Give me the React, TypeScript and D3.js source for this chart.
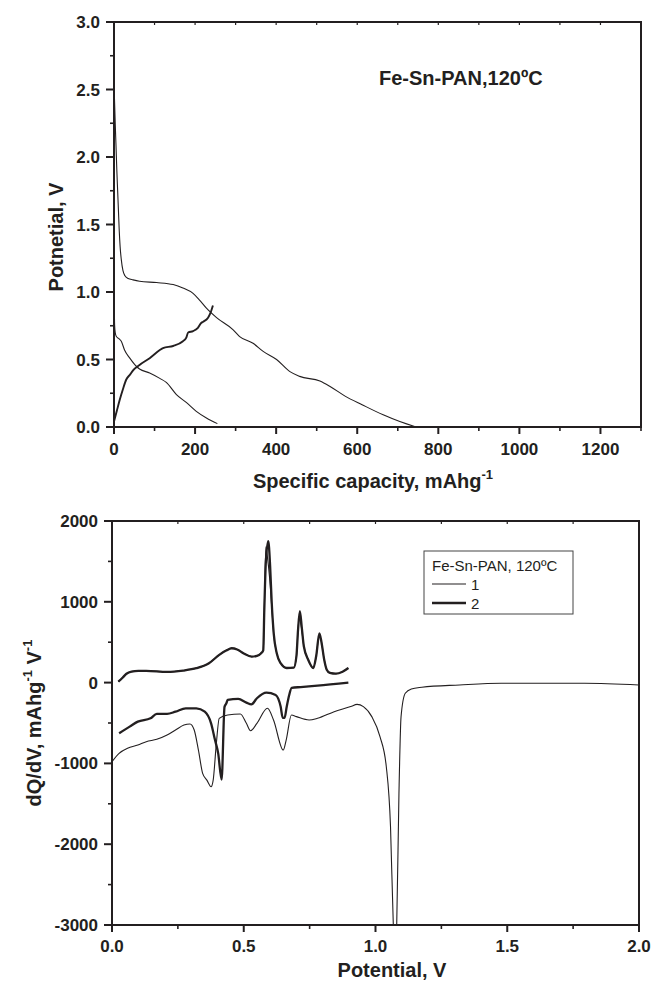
import React from "react";
import * as d3 from "d3";

// ---------- Top chart data (Specific capacity vs potential) ----------
const capFirstDis = [0, 1.5, 3, 5, 7, 9, 11, 13, 15, 18, 22, 27, 35, 47, 63, 105, 146, 170, 195, 211, 228, 253, 294, 310, 343, 368, 401, 434, 458, 508, 533, 571, 612, 664, 705, 745];
const potFirstDis = [2.55, 2.4, 2.25, 2.08, 1.9, 1.75, 1.6, 1.45, 1.34, 1.24, 1.16, 1.12, 1.1, 1.09, 1.08, 1.07, 1.055, 1.03, 0.99, 0.94, 0.88, 0.81, 0.72, 0.67, 0.62, 0.56, 0.5, 0.41, 0.375, 0.34, 0.3, 0.227, 0.165, 0.09, 0.04, 0];
const capCharge = [0, 7, 14, 22, 30, 40, 47, 63, 88, 113, 121, 146, 170, 178, 183, 195, 207, 215, 220, 232, 238, 244];
const potCharge = [0.04, 0.12, 0.2, 0.28, 0.35, 0.39, 0.42, 0.46, 0.51, 0.57, 0.585, 0.6, 0.635, 0.66, 0.7, 0.71, 0.735, 0.77, 0.78, 0.81, 0.845, 0.9];
const capSecondDis = [0, 0.8, 1.6, 3, 5.8, 12, 18, 26, 39, 55, 63, 88, 113, 129, 154, 179, 203, 228, 255];
const potSecondDis = [0.92, 0.85, 0.75, 0.7, 0.67, 0.655, 0.635, 0.57, 0.51, 0.45, 0.43, 0.4, 0.36, 0.33, 0.24, 0.18, 0.116, 0.067, 0.025];

const topXTicks = [0, 200, 400, 600, 800, 1000, 1200];
const topXMinor = [100, 300, 500, 700, 900, 1100, 1300];
const topYTicks = [0, 0.5, 1.0, 1.5, 2.0, 2.5, 3.0];
const topYMinor = [0.25, 0.75, 1.25, 1.75, 2.25, 2.75];

// ---------- Bottom chart data (dQ/dV vs potential) ----------
const v1Dis = [0, 0.027, 0.059, 0.098, 0.13, 0.17, 0.209, 0.241, 0.273, 0.296, 0.312, 0.328, 0.344, 0.36, 0.376, 0.384, 0.396, 0.407, 0.439, 0.487, 0.51, 0.526, 0.55, 0.59, 0.613, 0.65, 0.661, 0.681, 0.7, 0.748, 0.78, 0.843, 0.906, 0.93, 0.954, 0.986, 1.017, 1.041, 1.057, 1.0676, 1.074, 1.0805, 1.089, 1.097, 1.113, 1.136, 1.176, 1.319, 1.477, 1.794, 2.0];
const q1Dis = [-979, -876, -814, -773, -731, -702, -649, -587, -525, -512, -587, -835, -1124, -1207, -1289, -1207, -752, -442, -401, -388, -504, -595, -504, -318, -463, -835, -711, -401, -421, -463, -442, -360, -297, -269, -297, -421, -669, -1041, -1785, -3000, -3400, -3000, -1372, -421, -132, -79, -58, -29, -8, -8, -29];
const v2Dis = [0.027, 0.067, 0.098, 0.146, 0.17, 0.209, 0.241, 0.28, 0.32, 0.352, 0.376, 0.391, 0.403, 0.416, 0.427, 0.434, 0.439, 0.479, 0.51, 0.529, 0.55, 0.586, 0.621, 0.64, 0.648, 0.655, 0.663, 0.672, 0.682, 0.716, 0.78, 0.897];
const q2Dis = [-628, -545, -483, -442, -388, -388, -360, -318, -318, -360, -504, -711, -876, -1201, -300, -256, -215, -202, -248, -269, -194, -124, -153, -297, -436, -436, -300, -160, -65, -55, -38, 0];
const v1Ch = [0.024, 0.04, 0.055, 0.074, 0.1, 0.13, 0.21, 0.27, 0.32, 0.368, 0.407, 0.435, 0.454, 0.475, 0.5, 0.53, 0.55, 0.565, 0.574, 0.578, 0.584, 0.59, 0.598, 0.606, 0.614, 0.625, 0.64, 0.663, 0.69, 0.7, 0.706, 0.71, 0.718, 0.728, 0.745, 0.764, 0.775, 0.787, 0.795, 0.805, 0.815, 0.827, 0.85, 0.875, 0.897];
const q1Ch = [12, 60, 110, 136, 145, 145, 132, 149, 178, 240, 343, 400, 425, 410, 360, 321, 330, 360, 400, 900, 1680, 1550, 1300, 950, 580, 366, 240, 181, 185, 320, 640, 798, 700, 450, 280, 181, 330, 590, 500, 290, 160, 120, 110, 135, 181];
const v2Ch = [0.024, 0.04, 0.055, 0.074, 0.1, 0.13, 0.21, 0.27, 0.32, 0.368, 0.407, 0.435, 0.454, 0.475, 0.5, 0.53, 0.55, 0.565, 0.574, 0.578, 0.584, 0.593, 0.6, 0.606, 0.614, 0.625, 0.64, 0.663, 0.69, 0.7, 0.706, 0.713, 0.72, 0.728, 0.745, 0.764, 0.775, 0.787, 0.795, 0.805, 0.815, 0.827, 0.85, 0.875, 0.897];
const q2Ch = [12, 60, 110, 136, 145, 145, 132, 149, 178, 240, 343, 400, 425, 410, 360, 321, 330, 360, 400, 900, 1500, 1750, 1450, 1000, 600, 366, 240, 181, 185, 330, 650, 885, 690, 450, 280, 181, 330, 610, 500, 290, 160, 120, 110, 135, 181];

const botXTicks = [0, 0.5, 1.0, 1.5, 2.0];
const botXMinor = [0.25, 0.75, 1.25, 1.75];
const botYTicks = [-3000, -2000, -1000, 0, 1000, 2000];
const botYMinor = [-2500, -1500, -500, 500, 1500];

const legendTitle = "Fe-Sn-PAN, 120ºC";
const legendLabels = ["1", "2"];
const annotation = "Fe-Sn-PAN,120ºC";

const INK = "#231f20";
const FONT = "'Liberation Sans', Arial, Helvetica, sans-serif";

type Pt = [number, number];
const zip = (a: number[], b: number[]): Pt[] => a.map((v, i) => [v, b[i]]);

function Frame({ x, y, xTicks, xMinor, yTicks, yMinor, xFmt, yFmt, xLabelDy }: any) {
  const [x0, x1] = x.range();
  const [y0, y1] = y.range(); // y0 bottom, y1 top
  return (
    <g>
      <rect x={x0} y={y1} width={x1 - x0} height={y0 - y1} fill="none" stroke={INK} strokeWidth={2} />
      {xTicks.map((t: number) => (
        <g key={"xt" + t}>
          <line x1={x(t)} x2={x(t)} y1={y0} y2={y0 + 7} stroke={INK} strokeWidth={2} />
          <line x1={x(t)} x2={x(t)} y1={y1} y2={y1 + 3} stroke={INK} strokeWidth={1.2} />
          <text x={x(t)} y={y0 + xLabelDy} textAnchor="middle" fontFamily={FONT} fontWeight="bold" fontSize={17} fill={INK}>
            {xFmt(t)}
          </text>
        </g>
      ))}
      {xMinor.map((t: number) => (
        <g key={"xm" + t}>
          <line x1={x(t)} x2={x(t)} y1={y0} y2={y0 + 4} stroke={INK} strokeWidth={1.6} />
          <line x1={x(t)} x2={x(t)} y1={y1} y2={y1 + 3} stroke={INK} strokeWidth={1.2} />
        </g>
      ))}
      {yTicks.map((t: number) => (
        <g key={"yt" + t}>
          <line x1={x0 - 8} x2={x0} y1={y(t)} y2={y(t)} stroke={INK} strokeWidth={2} />
          <text x={x0 - 14} y={y(t) + 6} textAnchor="end" fontFamily={FONT} fontWeight="bold" fontSize={17} fill={INK}>
            {yFmt(t)}
          </text>
        </g>
      ))}
      {yMinor.map((t: number) => (
        <line key={"ym" + t} x1={x0 - 4} x2={x0} y1={y(t)} y2={y(t)} stroke={INK} strokeWidth={1.6} />
      ))}
    </g>
  );
}

export default function App() {
  const xTop = d3.scaleLinear().domain([0, 1300]).range([114, 641]);
  const yTop = d3.scaleLinear().domain([0, 3]).range([427, 22]);
  const lineTop = d3
    .line<Pt>()
    .x((d) => xTop(d[0]))
    .y((d) => yTop(d[1]))
    .curve(d3.curveMonotoneX);

  const xBot = d3.scaleLinear().domain([0, 2]).range([112, 639]);
  const yBot = d3.scaleLinear().domain([-3000, 2000]).range([925, 521]);
  const lineBot = d3
    .line<Pt>()
    .x((d) => xBot(d[0]))
    .y((d) => yBot(d[1]))
    .curve(d3.curveMonotoneX);

  const fmt1 = (t: number) => t.toFixed(1);
  const fmt0 = (t: number) => String(t);

  return (
    <div style={{ position: "absolute", left: 0, top: 0 }}>
      <svg width={654} height={983} viewBox="0 0 654 983" style={{ display: "block", background: "#fff" }}>
        <defs>
          <clipPath id="clipTop">
            <rect x={114} y={22} width={527} height={405} />
          </clipPath>
          <clipPath id="clipBot">
            <rect x={112} y={521} width={527} height={404} />
          </clipPath>
        </defs>

        {/* ---------------- Top chart ---------------- */}
        <g clipPath="url(#clipTop)" fill="none" stroke={INK} strokeLinejoin="round">
          <path d={lineTop(zip(capFirstDis, potFirstDis)) || ""} strokeWidth={1.1} />
          <path d={lineTop(zip(capSecondDis, potSecondDis)) || ""} strokeWidth={1.1} />
          <path d={lineTop(zip(capCharge, potCharge)) || ""} strokeWidth={1.9} />
        </g>
        <Frame x={xTop} y={yTop} xTicks={topXTicks} xMinor={topXMinor} yTicks={topYTicks} yMinor={topYMinor} xFmt={fmt0} yFmt={fmt1} xLabelDy={28} />
        <text x={379} y={85} fontFamily={FONT} fontWeight="bold" fontSize={20} fill={INK}>
          {annotation}
        </text>
        <text x={373} y={488} textAnchor="middle" fontFamily={FONT} fontWeight="bold" fontSize={20} fill={INK}>
          Specific capacity, mAhg
          <tspan fontSize={13} dy={-9}>-1</tspan>
        </text>
        <text transform="translate(63,237) rotate(-90)" textAnchor="middle" fontFamily={FONT} fontWeight="bold" fontSize={20} fill={INK}>
          Potnetial, V
        </text>

        {/* ---------------- Bottom chart ---------------- */}
        <g clipPath="url(#clipBot)" fill="none" stroke={INK} strokeLinejoin="round">
          <path d={lineBot(zip(v1Dis, q1Dis)) || ""} strokeWidth={1.1} />
          <path d={lineBot(zip(v1Ch, q1Ch)) || ""} strokeWidth={1.1} />
          <path d={lineBot(zip(v2Dis, q2Dis)) || ""} strokeWidth={2.3} />
          <path d={lineBot(zip(v2Ch, q2Ch)) || ""} strokeWidth={2.3} />
        </g>
        <Frame x={xBot} y={yBot} xTicks={botXTicks} xMinor={botXMinor} yTicks={botYTicks} yMinor={botYMinor} xFmt={fmt1} yFmt={fmt0} xLabelDy={27} />

        {/* legend */}
        <rect x={424} y={551} width={149} height={63} fill="#fff" stroke="#444" strokeWidth={1} />
        <text x={432} y={571} fontFamily={FONT} fontSize={15} fill={INK}>
          {legendTitle}
        </text>
        {legendLabels.map((lab, i) => (
          <g key={lab}>
            <line x1={432} x2={466} y1={584 + i * 19} y2={584 + i * 19} stroke={INK} strokeWidth={i === 0 ? 1.1 : 2.3} />
            <text x={471} y={590 + i * 19} fontFamily={FONT} fontSize={15} fill={INK}>
              {lab}
            </text>
          </g>
        ))}

        <text x={392} y={977} textAnchor="middle" fontFamily={FONT} fontWeight="bold" fontSize={20} fill={INK}>
          Potential, V
        </text>
        <text transform="translate(41,723) rotate(-90)" textAnchor="middle" fontFamily={FONT} fontWeight="bold" fontSize={20} fill={INK}>
          dQ/dV, mAhg
          <tspan fontSize={13} dy={-9}>-1</tspan>
          <tspan dy={9}> V</tspan>
          <tspan fontSize={13} dy={-9}>-1</tspan>
        </text>
      </svg>
    </div>
  );
}
